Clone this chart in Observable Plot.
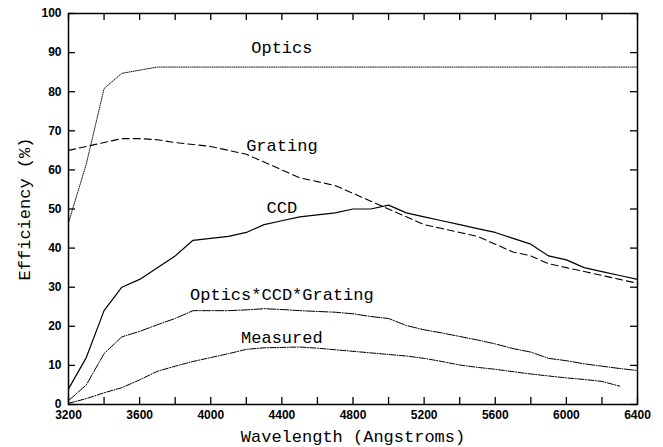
<!DOCTYPE html>
<html><head><meta charset="utf-8">
<script src="https://cdn.jsdelivr.net/npm/d3@7"></script>
<script src="https://cdn.jsdelivr.net/npm/@observablehq/plot@0.6"></script>
<style>body{margin:0;background:#fff} svg{display:block}</style>
</head><body><div id="chart"></div>
<script>
const wavelengths = [3200,3300,3400,3500,3600,3700,3800,3900,4000,4100,4200,4300,4400,4500,4600,4700,4800,4900,5000,5100,5200,5300,5400,5500,5600,5700,5800,5900,6000,6100,6200,6300,6400];
const optics   = [46.5,61.5,80.8,84.7,85.5,86.3,86.3,86.3,86.3,86.3,86.3,86.3,86.3,86.3,86.3,86.3,86.3,86.3,86.3,86.3,86.3,86.3,86.3,86.3,86.3,86.3,86.3,86.3,86.3,86.3,86.3,86.3,86.3];
const grating  = [65,66,67,68,68,67.7,67,66.5,66,65,64,62,60,58,57,56,54,52,50,48,46,45,44,43,41,39,38,36,35,34,33,32,31];
const ccd      = [4,12,24,30,32,35,38,42,42.5,43,44,46,47,48,48.5,49,50,50,51,49,48,47,46,45,44,42.5,41,38,37,35,34,33,32];
const combined = [1,5,13,17.3,18.7,20.4,22,24,24,24,24.2,24.5,24.3,24,23.8,23.6,23.2,22.5,22,20.2,19.1,18.3,17.4,16.5,15.5,14.3,13.4,11.8,11.2,10.4,9.8,9.2,8.7];
const measured = [0.3,1.5,3,4.3,6.3,8.5,9.8,11,12,13,14.1,14.5,14.6,14.7,14.4,14,13.6,13.2,12.8,12.4,11.8,11,10.1,9.5,9,8.4,7.8,7.3,6.8,6.4,5.9,4.7];
const seriesNames = ["Optics","Grating","CCD","Optics*CCD*Grating","Measured"];
const labelX = [4400,4400,4400,4400,4400];
const labelY = [91.2,66.2,50.3,28.1,17.1];
const xTicksLabeled = [3200,3600,4000,4400,4800,5200,5600,6000,6400];
const xTicksMinor = [3200,3400,3600,3800,4000,4200,4400,4600,4800,5000,5200,5400,5600,5800,6000,6200,6400];
const yTicks = [0,10,20,30,40,50,60,70,80,90,100];

const seriesValues = [optics, grating, ccd, combined, measured];
const styles = {
  "Optics": {dash: "1,1.2", width: 0.9},
  "Grating": {dash: "7,4", width: 1.1},
  "CCD": {dash: null, width: 1.2},
  "Optics*CCD*Grating": {dash: "9,1.5,1,1.5", width: 1},
  "Measured": {dash: "6,1.5,1,1.5", width: 1}
};
const rows = [];
seriesNames.forEach((name, i) => seriesValues[i].forEach((v, j) => rows.push({series: name, wl: wavelengths[j], eff: v})));
const labels = seriesNames.map((n, i) => ({text: n, x: labelX[i], y: labelY[i]}));

const W = 663, H = 447, mL = 68, mR = 26, mT = 13, mB = 43;
const xDom = [3200, 6400], yDom = [0, 100];
const tickPx = 7;
// inward tick lengths expressed in data units
const tkY = tickPx / (H - mT - mB) * (yDom[1] - yDom[0]);
const tkX = tickPx / (W - mL - mR) * (xDom[1] - xDom[0]);

const tickFont = {fontFamily: "Liberation Sans, Arial, sans-serif", fontWeight: "bold", fontSize: 12, tickFormat: "d"};
const textFont = "Liberation Mono, DejaVu Sans Mono, monospace";
const tickStyle = {stroke: "black", strokeWidth: 1.3};

const chart = Plot.plot({
  width: W, height: H,
  marginLeft: mL, marginRight: mR, marginTop: mT, marginBottom: mB,
  style: {background: "#fff", color: "#000"},
  x: {domain: xDom},
  y: {domain: yDom},
  marks: [
    ...seriesNames.map(name => Plot.line(rows.filter(r => r.series === name), {
      x: "wl", y: "eff", stroke: "black", strokeWidth: styles[name].width,
      strokeDasharray: styles[name].dash
    })),
    Plot.text(labels, {x: "x", y: "y", text: "text", fontFamily: textFont, fontSize: 17, fill: "black"}),
    Plot.axisX({anchor: "bottom", ticks: xTicksLabeled, tickSize: 0, tickPadding: 6, label: null, ...tickFont}),
    Plot.axisY({anchor: "left", ticks: yTicks, tickSize: 0, tickPadding: 7, label: null, ...tickFont}),
    Plot.ruleX(xTicksMinor, {x: d => d, y1: yDom[0], y2: yDom[0] + tkY, ...tickStyle}),
    Plot.ruleX(xTicksMinor, {x: d => d, y1: yDom[1] - tkY, y2: yDom[1], ...tickStyle}),
    Plot.ruleY(yTicks, {y: d => d, x1: xDom[0], x2: xDom[0] + tkX, ...tickStyle}),
    Plot.ruleY(yTicks, {y: d => d, x1: xDom[1] - tkX, x2: xDom[1], ...tickStyle}),
    Plot.text(["Wavelength (Angstroms)"], {frameAnchor: "bottom", lineAnchor: "middle", textAnchor: "middle", dy: 32, fontFamily: textFont, fontSize: 17, fill: "black"}),
    Plot.text(["Efficiency (%)"], {frameAnchor: "left", textAnchor: "middle", lineAnchor: "middle", dx: -44, rotate: -90, fontFamily: textFont, fontSize: 17, fill: "black"}),
    Plot.frame({stroke: "black", strokeWidth: 1.5})
  ]
});
document.getElementById("chart").appendChild(chart);
</script>
</body></html>
